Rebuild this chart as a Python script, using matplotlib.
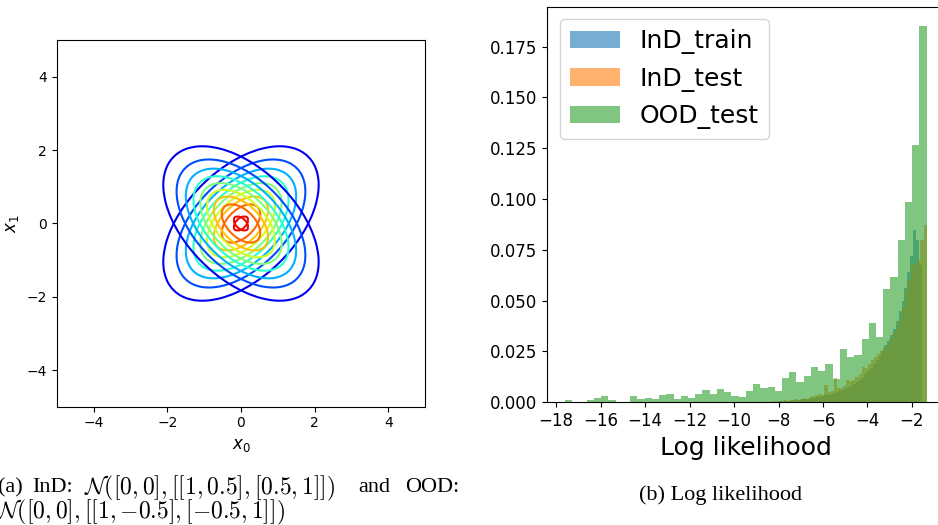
import numpy as np
import matplotlib
matplotlib.use("Agg")
import matplotlib.pyplot as plt

# --- (a) dvě gaussovky: InD a OOD ---
ind_mean = [0.0, 0.0]
ind_cov = [[1.0, 0.5], [0.5, 1.0]]
ood_mean = [0.0, 0.0]
ood_cov = [[1.0, -0.5], [-0.5, 1.0]]
contour_levels = [0.0, 0.02, 0.04, 0.06, 0.08, 0.10, 0.12, 0.14, 0.16, 0.18, 0.20]

# --- (b) histogramy log likelihood (podíl vzorků v binu) ---
ood_range = (-17.6, -1.34)
ood_test = [0.0013, 0.0003, 0.0002, 0.0010, 0.0020, 0.0030, 0.0010, 0.0000, 0.0003, 0.0030,
            0.0015, 0.0020, 0.0015, 0.0034, 0.0039, 0.0015, 0.0033, 0.0023, 0.0043, 0.0059,
            0.0043, 0.0066, 0.0049, 0.0033, 0.0028, 0.0054, 0.0089, 0.0071, 0.0077, 0.0054,
            0.0118, 0.0149, 0.0102, 0.0130, 0.0174, 0.0156, 0.0190, 0.0115, 0.0261, 0.0225,
            0.0235, 0.0310, 0.0392, 0.0320, 0.0558, 0.0616, 0.0800, 0.0985, 0.1268, 0.1852]

ind_test_range = (-8.3, -1.34)
ind_test = [0.0008, 0.0004, 0.0006, 0.0008, 0.0010, 0.0006, 0.0012, 0.0014, 0.0010, 0.0016,
            0.0020, 0.0018, 0.0026, 0.0030, 0.0034, 0.0040, 0.0036, 0.0086, 0.0050, 0.0056,
            0.0118, 0.0070, 0.0072, 0.0080, 0.0110, 0.0106, 0.0112, 0.0124, 0.0140, 0.0175,
            0.0170, 0.0190, 0.0210, 0.0225, 0.0240, 0.0250, 0.0268, 0.0280, 0.0310, 0.0340,
            0.0370, 0.0410, 0.0470, 0.0550, 0.0600, 0.0680, 0.0676, 0.0700, 0.0800, 0.0873]

ind_train_range = (-8.0, -1.57)
ind_train = [0.0004, 0.0006, 0.0004, 0.0008, 0.0008, 0.0010, 0.0012, 0.0010, 0.0014, 0.0016,
             0.0018, 0.0020, 0.0022, 0.0026, 0.0028, 0.0030, 0.0034, 0.0038, 0.0042, 0.0046,
             0.0050, 0.0056, 0.0062, 0.0068, 0.0074, 0.0082, 0.0090, 0.0098, 0.0108, 0.0118,
             0.0140, 0.0155, 0.0170, 0.0190, 0.0210, 0.0230, 0.0250, 0.0280, 0.0300, 0.0330,
             0.0360, 0.0400, 0.0450, 0.0500, 0.0560, 0.0640, 0.0720, 0.0850, 0.0800, 0.0676]

xticks_b = [-18, -16, -14, -12, -10, -8, -6, -4, -2]

# první řádek popisku (a) je v článku zarovnaný do bloku -> kusy zvlášť
caption_a1_parts = [("(a)", 0), ("InD:", 34),
                    (r"$\mathcal{N}([0,0],[[1,0.5],[0.5,1]])$", 86),
                    ("and", 360), ("OOD:", 407)]
caption_a2 = r"$\mathcal{N}([0,0],[[1,{-0.5}],[{-0.5},1]])$"
caption_b = "(b) Log likelihood"


def gauss_pdf(X, Y, mean, cov):
    cov = np.array(cov)
    inv = np.linalg.inv(cov)
    dx = X - mean[0]
    dy = Y - mean[1]
    r2 = inv[0, 0] * dx * dx + 2 * inv[0, 1] * dx * dy + inv[1, 1] * dy * dy
    return np.exp(-0.5 * r2) / (2 * np.pi * np.sqrt(np.linalg.det(cov)))


fig = plt.figure(figsize=(9.38, 5.25), dpi=100)

# levý graf
ax1 = fig.add_axes([0.0604, 0.2253, 0.393, 0.698])
xs = np.linspace(-5, 5, 100)
X, Y = np.meshgrid(xs, xs)
for mean, cov in [(ind_mean, ind_cov), (ood_mean, ood_cov)]:
    Z = gauss_pdf(X, Y, mean, cov)
    ax1.contour(X, Y, Z, levels=contour_levels, cmap="jet")
ax1.set_xlim(-5, 5)
ax1.set_ylim(-5, 5)
ax1.set_xlabel("$x_0$", fontsize=12)
ax1.set_ylabel("$x_1$", fontsize=12)

# pravý graf (přesahuje okraj obrázku, jako ve výřezu z článku)
ax2 = fig.add_axes([547 / 938, 0.2337, 0.424, 0.753])
series = [("InD_train", ind_train, ind_train_range),
          ("InD_test", ind_test, ind_test_range),
          ("OOD_test", ood_test, ood_range)]
for name, heights, rng in series:
    edges = np.linspace(rng[0], rng[1], len(heights) + 1)
    centers = 0.5 * (edges[:-1] + edges[1:])
    ax2.hist(centers, bins=edges, weights=heights, alpha=0.6,
             histtype="stepfilled", label=name)
ax2.set_xticks(xticks_b)
ax2.tick_params(labelsize=12)
ax2.set_xlabel("Log likelihood", fontsize=18)
ax2.legend(loc="upper left", fontsize=18)

# popisky pod grafy
serif = ["Liberation Serif", "DejaVu Serif"]
for txt, px in caption_a1_parts:
    fs = 17 if txt.startswith("$") else 16
    fig.text((px - 2) / 938, 1 - 488 / 525, txt, ha="left", va="center",
             family=serif, math_fontfamily="cm", fontsize=fs)
fig.text(-3 / 938, 1 - 512 / 525, caption_a2, ha="left", va="center",
         family=serif, math_fontfamily="cm", fontsize=17)
fig.text(720 / 938, 1 - 495 / 525, caption_b, ha="center", va="center",
         family=serif, fontsize=16)

fig.savefig("out.png", dpi=100)
